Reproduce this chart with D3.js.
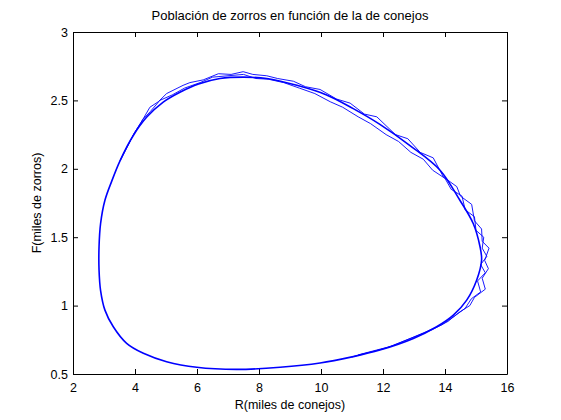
<!DOCTYPE html>
<html>
<head>
<meta charset="utf-8">
<script src="https://cdn.jsdelivr.net/npm/d3@7"></script>
<style>
  body { margin: 0; background: #fff; }
  svg { font-family: "Liberation Sans", Arial, sans-serif; }
</style>
</head>
<body>
<div id="chart"></div>
<script>
// tick values
var xTicks = [2, 4, 6, 8, 10, 12, 14, 16];
var yTicks = [0.5, 1, 1.5, 2, 2.5, 3];

// main (smooth) orbit, [R, F], counter-clockwise from the bottom
var orbitMain = [
    [7.28, 0.534], [8.68, 0.549], [9.97, 0.58], [11.0, 0.625], [11.9, 0.675], [12.98, 0.76],
    [13.73, 0.845], [14.27, 0.93], [14.7, 1.04], [15.02, 1.186], [15.18, 1.332], [15.13, 1.43],
    [14.91, 1.6], [14.48, 1.77], [13.84, 1.99], [12.87, 2.17], [11.9, 2.325], [11.04, 2.44],
    [10.18, 2.54], [9.22, 2.61], [8.25, 2.66], [7.49, 2.67], [6.74, 2.66], [6.05, 2.62],
    [5.45, 2.56], [4.91, 2.488], [4.38, 2.378], [3.95, 2.245], [3.52, 2.06], [3.25, 1.91],
    [3.03, 1.77], [2.89, 1.6], [2.84, 1.43], [2.84, 1.26], [2.89, 1.11], [3.03, 0.967],
    [3.3, 0.845], [3.73, 0.724], [4.27, 0.651], [5.02, 0.59], [5.99, 0.549]
];

// later laps, drifting and jagged on the right and the top
var orbitLap2 = [
    [11.0, 0.625], [12.1, 0.69], [13.0, 0.77], [13.6, 0.825], [14.1, 0.885], [14.45, 0.95],
    [14.8, 1.0], [14.95, 1.06], [15.3, 1.12], [15.2, 1.2], [15.4, 1.27], [15.28, 1.33],
    [15.42, 1.42], [15.2, 1.47], [15.18, 1.56], [14.95, 1.62], [14.86, 1.74], [14.5, 1.8],
    [14.38, 1.87], [13.95, 1.94], [13.62, 2.08], [13.2, 2.12], [12.8, 2.22], [12.4, 2.25],
    [11.8, 2.38], [11.4, 2.4], [10.94, 2.48], [10.5, 2.51], [9.97, 2.58], [9.5, 2.6],
    [9.11, 2.64], [8.6, 2.66], [8.25, 2.68], [7.8, 2.69], [7.49, 2.71], [7.1, 2.69],
    [6.69, 2.695], [6.2, 2.65], [5.77, 2.63], [5.55, 2.61], [5.02, 2.55], [4.75, 2.49],
    [4.48, 2.45], [4.2, 2.34], [3.95, 2.25], [3.52, 2.06]
];

var orbitLap3 = [
    [11.2, 0.64], [12.3, 0.705], [13.3, 0.8], [13.9, 0.86], [14.35, 0.93], [14.65, 0.98],
    [14.85, 1.05], [15.15, 1.1], [15.05, 1.18], [15.3, 1.24], [15.15, 1.3], [15.35, 1.36],
    [15.2, 1.42], [15.25, 1.5], [15.0, 1.55], [14.95, 1.65], [14.65, 1.7], [14.55, 1.8],
    [14.2, 1.85], [14.0, 1.93], [13.6, 1.99], [13.3, 2.07], [12.9, 2.12], [12.5, 2.2],
    [12.1, 2.25], [11.6, 2.33], [11.2, 2.38], [10.7, 2.45], [10.3, 2.49], [9.8, 2.55],
    [9.3, 2.59], [8.8, 2.63], [8.3, 2.655], [7.9, 2.66], [7.5, 2.69], [7.0, 2.68],
    [6.5, 2.67], [6.1, 2.63], [5.6, 2.59], [5.2, 2.54], [4.8, 2.5], [4.5, 2.42],
    [4.25, 2.36], [4.0, 2.27], [3.7, 2.14], [3.52, 2.06]
];

var W = 561, H = 420;
var margin = { left: 73, right: 54, top: 32, bottom: 46 };
var iw = W - margin.left - margin.right, ih = H - margin.top - margin.bottom;

var svg = d3.select("#chart").append("svg")
    .attr("width", W)
    .attr("height", H);

var g = svg.append("g")
    .attr("transform", "translate(" + margin.left + "," + margin.top + ")");

var x = d3.scaleLinear().domain([2, 16]).range([0, iw]);
var y = d3.scaleLinear().domain([0.5, 3]).range([ih, 0]);

// axes, ticks pointing inward like MATLAB
g.append("g").attr("class", "axis")
    .attr("transform", "translate(0," + ih + ")")
    .call(d3.axisBottom(x).tickValues(xTicks).tickFormat(d3.format("d")).tickSize(-5).tickSizeOuter(0).tickPadding(9));
g.append("g").attr("class", "axis")
    .call(d3.axisTop(x).tickValues(xTicks).tickFormat("").tickSize(-5).tickSizeOuter(0));
g.append("g").attr("class", "axis")
    .call(d3.axisLeft(y).tickValues(yTicks).tickFormat(function (d) { return String(d); }).tickSize(-5).tickSizeOuter(0).tickPadding(5));
g.append("g").attr("class", "axis")
    .attr("transform", "translate(" + iw + ",0)")
    .call(d3.axisRight(y).tickValues(yTicks).tickFormat("").tickSize(-5).tickSizeOuter(0));

g.selectAll(".axis text").style("font-size", "12.5px").style("fill", "#000");
g.selectAll(".axis line").attr("stroke", "#000");
g.selectAll(".axis path").attr("stroke", "#000");

// curves
var smooth = d3.line()
    .x(function (d) { return x(d[0]); })
    .y(function (d) { return y(d[1]); })
    .curve(d3.curveCatmullRomClosed);
var jagged = d3.line()
    .x(function (d) { return x(d[0]); })
    .y(function (d) { return y(d[1]); });

g.append("path").datum(orbitMain)
    .attr("d", smooth)
    .attr("fill", "none")
    .attr("stroke", "#0000ff")
    .attr("stroke-width", 1.6);
[orbitLap2, orbitLap3].forEach(function (lap) {
    g.append("path").datum(lap)
        .attr("d", jagged)
        .attr("fill", "none")
        .attr("stroke", "#0000ff")
        .attr("stroke-width", 0.9);
});

// labels
svg.append("text")
    .attr("x", margin.left + iw / 2)
    .attr("y", 20)
    .attr("text-anchor", "middle")
    .style("font-size", "13px")
    .text("Población de zorros en función de la de conejos");
svg.append("text")
    .attr("x", margin.left + iw / 2)
    .attr("y", 409)
    .attr("text-anchor", "middle")
    .style("font-size", "12.5px")
    .text("R(miles de conejos)");
svg.append("text")
    .attr("transform", "translate(41," + (margin.top + ih / 2) + ") rotate(-90)")
    .attr("text-anchor", "middle")
    .style("font-size", "12.5px")
    .text("F(miles de zorros)");
</script>
</body>
</html>
